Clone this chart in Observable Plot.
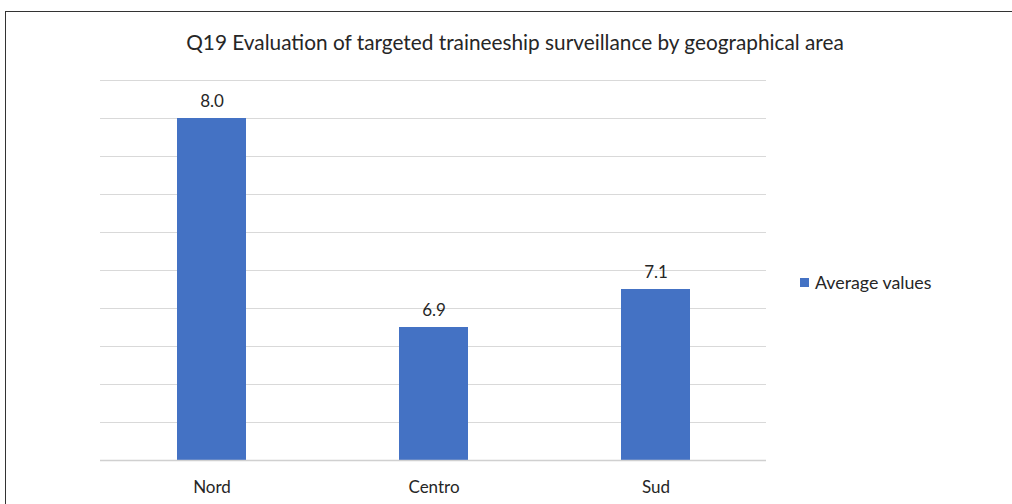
<!DOCTYPE html>
<html>
<head>
<meta charset="utf-8">
<script src="https://cdn.jsdelivr.net/npm/d3@7"></script>
<script src="https://cdn.jsdelivr.net/npm/@observablehq/plot@0.6"></script>
<style>
  html, body { margin: 0; padding: 0; background: #fff; width: 1012px; height: 504px; overflow: hidden; }
  #frame { position: absolute; left: 5px; top: 11px; width: 1100px; height: 600px; border: 1.5px solid #333; box-sizing: border-box; }
  #title { position: absolute; left: 0; width: 1030px; top: 29px; text-align: center; font-family: Lato, sans-serif; font-size: 20.8px; color: #262626; }
  #chart { position: absolute; left: 0; top: 0; }
  #legend { position: absolute; left: 800px; top: 271px; font-family: Lato, sans-serif; font-size: 17.8px; color: #262626; display: flex; align-items: center; }
  #legend .sw { width: 9px; height: 9px; background: #4472c4; margin-right: 6px; }
</style>
</head>
<body>
<div id="frame"></div>
<div id="title">Q19 Evaluation of targeted traineeship surveillance by geographical area</div>
<div id="chart"></div>
<div id="legend"><div class="sw"></div><span>Average values</span></div>
<script>
const categories = ["Nord", "Centro", "Sud"];
const averageValues = [8.0, 6.9, 7.1];
const gridTicks = [6.2, 6.4, 6.6, 6.8, 7.0, 7.2, 7.4, 7.6, 7.8, 8.0, 8.2];
const seriesName = "Average values";

const data = categories.map((c, i) => ({area: c, value: averageValues[i]}));
const base = gridTicks[0];

const chart = Plot.plot({
  width: 1012,
  height: 504,
  marginLeft: 100,
  marginRight: 246,
  marginTop: 80,
  marginBottom: 44,
  style: {fontFamily: "Lato, sans-serif", fontSize: "17px", color: "#262626", background: "transparent"},
  x: {domain: categories, paddingInner: 0.69, paddingOuter: 0.345, label: null},
  y: {domain: [gridTicks[0], gridTicks[gridTicks.length - 1]], axis: null},
  marks: [
    Plot.ruleY(gridTicks.slice(1), {stroke: "#d9d9d9", strokeWidth: 1.2}),
    Plot.barY(data, {x: "area", y1: base, y2: "value", fill: "#4472c4"}),
    Plot.ruleY([base], {stroke: "#d0d0d0", strokeWidth: 1.5}),
    Plot.text(data, {x: "area", y: "value", text: d => d.value.toFixed(1), lineAnchor: "bottom", dy: -12, fill: "#262626", fontSize: 17}),
    Plot.axisX({tickSize: 0, tickPadding: 20, fontSize: 17, fill: "#262626", label: null})
  ]
});
document.getElementById("chart").appendChild(chart);
</script>
</body>
</html>
